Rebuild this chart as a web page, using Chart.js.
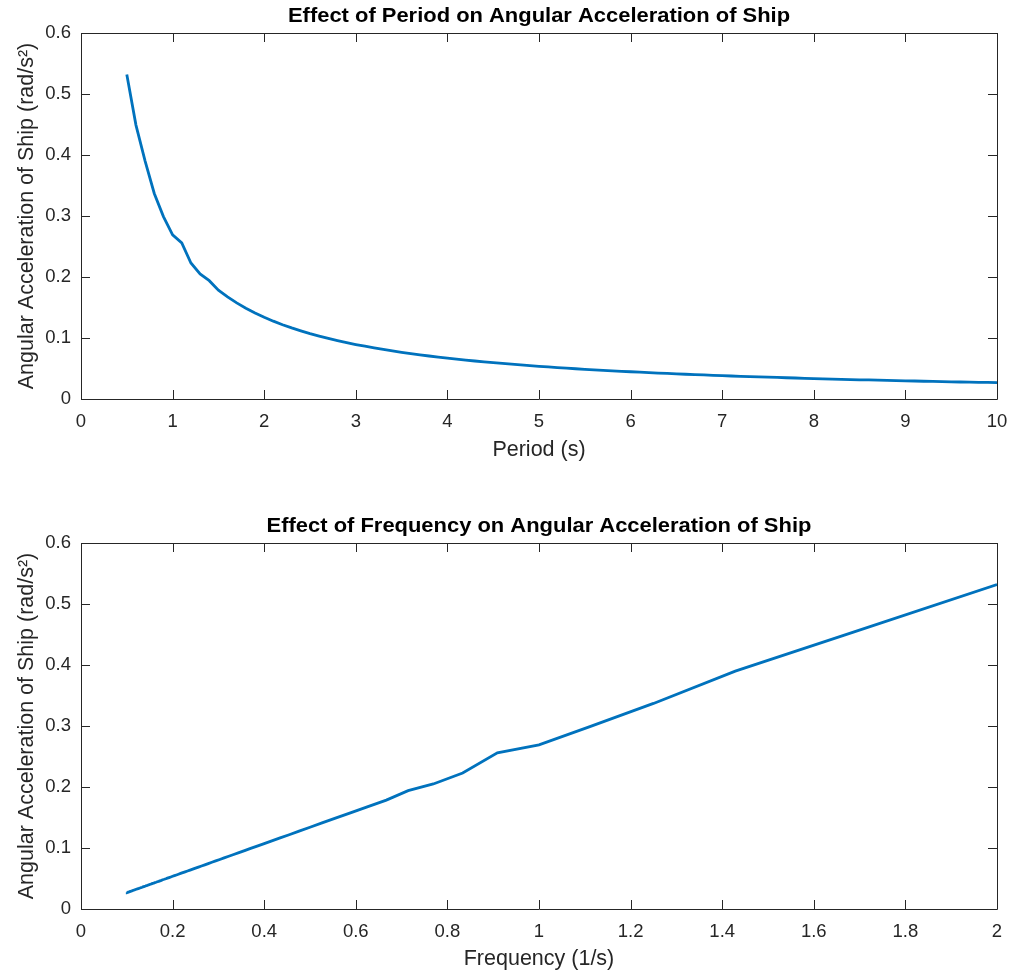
<!DOCTYPE html>
<html>
<head>
<meta charset="utf-8">
<script src="https://cdn.jsdelivr.net/npm/chart.js@4.4.1/dist/chart.umd.min.js"></script>
<style>
  html, body { margin: 0; padding: 0; background: #fff; }
  #wrap { position: relative; width: 1011px; height: 974px; }
  canvas { position: absolute; left: 0; }
  #periodChart { top: 0; }
  #freqChart { top: 487px; }
</style>
</head>
<body>
<div id="wrap">
  <canvas id="periodChart" width="1011" height="487"></canvas>
  <canvas id="freqChart" width="1011" height="487"></canvas>
</div>
<script>
// wave period (s)
const periods = [
  0.5, 0.6, 0.7, 0.8, 0.9, 1.0, 1.1, 1.2, 1.3, 1.4, 1.5, 1.6, 1.7, 1.8, 1.9, 2.0,
  2.1, 2.2, 2.3, 2.4, 2.5, 2.6, 2.7, 2.8, 2.9, 3.0, 3.1, 3.2, 3.3, 3.4, 3.5, 3.6,
  3.7, 3.8, 3.9, 4.0, 4.1, 4.2, 4.3, 4.4, 4.5, 4.6, 4.7, 4.8, 4.9, 5.0, 5.1, 5.2,
  5.3, 5.4, 5.5, 5.6, 5.7, 5.8, 5.9, 6.0, 6.1, 6.2, 6.3, 6.4, 6.5, 6.6, 6.7, 6.8,
  6.9, 7.0, 7.1, 7.2, 7.3, 7.4, 7.5, 7.6, 7.7, 7.8, 7.9, 8.0, 8.1, 8.2, 8.3, 8.4,
  8.5, 8.6, 8.7, 8.8, 8.9, 9.0, 9.1, 9.2, 9.3, 9.4, 9.5, 9.6, 9.7, 9.8, 9.9, 10.0
];

// angular acceleration of the ship (rad/s^2), one per period
const angAccel = [
  0.5320, 0.4490, 0.3900, 0.3370, 0.2990, 0.2690, 0.2560, 0.2230, 0.2050, 0.1940, 0.1785, 0.1675,
  0.1576, 0.1489, 0.1411, 0.1340, 0.1276, 0.1218, 0.1165, 0.1117, 0.1072, 0.1031, 0.0993, 0.0957,
  0.0924, 0.0893, 0.0865, 0.0838, 0.0812, 0.0788, 0.0766, 0.0744, 0.0724, 0.0705, 0.0687, 0.0670,
  0.0654, 0.0638, 0.0623, 0.0609, 0.0596, 0.0583, 0.0570, 0.0558, 0.0547, 0.0536, 0.0525, 0.0515,
  0.0506, 0.0496, 0.0487, 0.0479, 0.0470, 0.0462, 0.0454, 0.0447, 0.0439, 0.0432, 0.0425, 0.0419,
  0.0412, 0.0406, 0.0400, 0.0394, 0.0388, 0.0383, 0.0377, 0.0372, 0.0367, 0.0362, 0.0357, 0.0353,
  0.0348, 0.0344, 0.0339, 0.0335, 0.0331, 0.0327, 0.0323, 0.0319, 0.0315, 0.0312, 0.0308, 0.0305,
  0.0301, 0.0298, 0.0295, 0.0291, 0.0288, 0.0285, 0.0282, 0.0279, 0.0276, 0.0273, 0.0271, 0.0268
];

// frequency = 1 / period
const freqs = periods.map(p => 1 / p);

const yTitle = "Angular Acceleration of Ship (rad/s\u00B2)";
const LINE_COLOR = "#0072BD";
const AXIS_COLOR = "#262626";
const FONT = "'Liberation Sans', Arial, Helvetica, sans-serif";

// axes box with inward ticks on all four sides + bold title above
const boxPlugin = {
  id: "boxPlugin",
  afterDraw(chart, args, opts) {
    const { ctx, chartArea: a, scales } = chart;
    const tl = 9;
    ctx.save();
    ctx.strokeStyle = AXIS_COLOR;
    ctx.lineWidth = 1;
    ctx.beginPath();
    ctx.rect(Math.round(a.left) + 0.5, Math.round(a.top) + 0.5,
             Math.round(a.right - a.left), Math.round(a.bottom - a.top));
    scales.x.ticks.forEach(t => {
      const x = Math.round(scales.x.getPixelForValue(t.value)) + 0.5;
      ctx.moveTo(x, a.bottom); ctx.lineTo(x, a.bottom - tl);
      ctx.moveTo(x, a.top); ctx.lineTo(x, a.top + tl);
    });
    scales.y.ticks.forEach(t => {
      const y = Math.round(scales.y.getPixelForValue(t.value)) + 0.5;
      ctx.moveTo(a.left, y); ctx.lineTo(a.left + tl, y);
      ctx.moveTo(a.right, y); ctx.lineTo(a.right - tl, y);
    });
    ctx.stroke();

    // title, slightly widened
    ctx.fillStyle = "#000";
    ctx.font = "bold 20.5px " + FONT;
    ctx.textAlign = "center";
    ctx.textBaseline = "middle";
    ctx.translate((a.left + a.right) / 2, a.top - 17);
    ctx.scale(1.07, 1);
    ctx.fillText(opts.text, 0, 0);
    ctx.restore();
  }
};

function fmt(v) {
  return String(parseFloat(v.toFixed(1)));
}

function makeChart(id, xs, cfg) {
  const pts = xs.map((x, i) => ({ x: x, y: angAccel[i] }));
  return new Chart(document.getElementById(id), {
    type: "line",
    data: {
      datasets: [{
        data: pts,
        borderColor: LINE_COLOR,
        borderWidth: 2.8,
        pointRadius: 0,
        tension: 0,
        fill: false
      }]
    },
    options: {
      responsive: false,
      animation: false,
      layout: { padding: { top: cfg.top, right: 14, left: 0, bottom: 0 } },
      plugins: {
        legend: { display: false },
        tooltip: { enabled: false },
        boxPlugin: { text: cfg.title }
      },
      scales: {
        x: {
          type: "linear",
          min: 0,
          max: cfg.xmax,
          grid: { display: false, drawTicks: false },
          border: { display: false },
          ticks: {
            stepSize: cfg.xstep,
            color: AXIS_COLOR,
            font: { family: FONT, size: 18.5 },
            padding: 12,
            maxRotation: 0,
            callback: fmt
          },
          title: {
            display: true,
            text: cfg.xlabel,
            color: AXIS_COLOR,
            font: { family: FONT, size: 21.5 },
            padding: { top: 0, bottom: cfg.xTitlePad }
          },
          afterFit: s => {
            s.height = cfg.xHeight;
            s.paddingLeft = 0;
            s.paddingRight = 0;
          }
        },
        y: {
          min: 0,
          max: 0.6,
          grid: { display: false, drawTicks: false },
          border: { display: false },
          ticks: {
            stepSize: 0.1,
            color: AXIS_COLOR,
            font: { family: FONT, size: 18.5 },
            padding: 10,
            callback: fmt
          },
          title: {
            display: true,
            text: yTitle,
            color: AXIS_COLOR,
            font: { family: FONT, size: 21.5 },
            padding: { top: 14, bottom: 0 }
          },
          afterFit: s => { s.width = 81; }
        }
      }
    },
    plugins: [boxPlugin]
  });
}

makeChart("periodChart", periods, {
  title: "Effect of Period on Angular Acceleration of Ship",
  xlabel: "Period (s)",
  xmax: 10, xstep: 1,
  top: 33, xHeight: 88, xTitlePad: 24
});

makeChart("freqChart", freqs, {
  title: "Effect of Frequency on Angular Acceleration of Ship",
  xlabel: "Frequency (1/s)",
  xmax: 2, xstep: 0.2,
  top: 56, xHeight: 65, xTitlePad: 2
});
</script>
</body>
</html>
